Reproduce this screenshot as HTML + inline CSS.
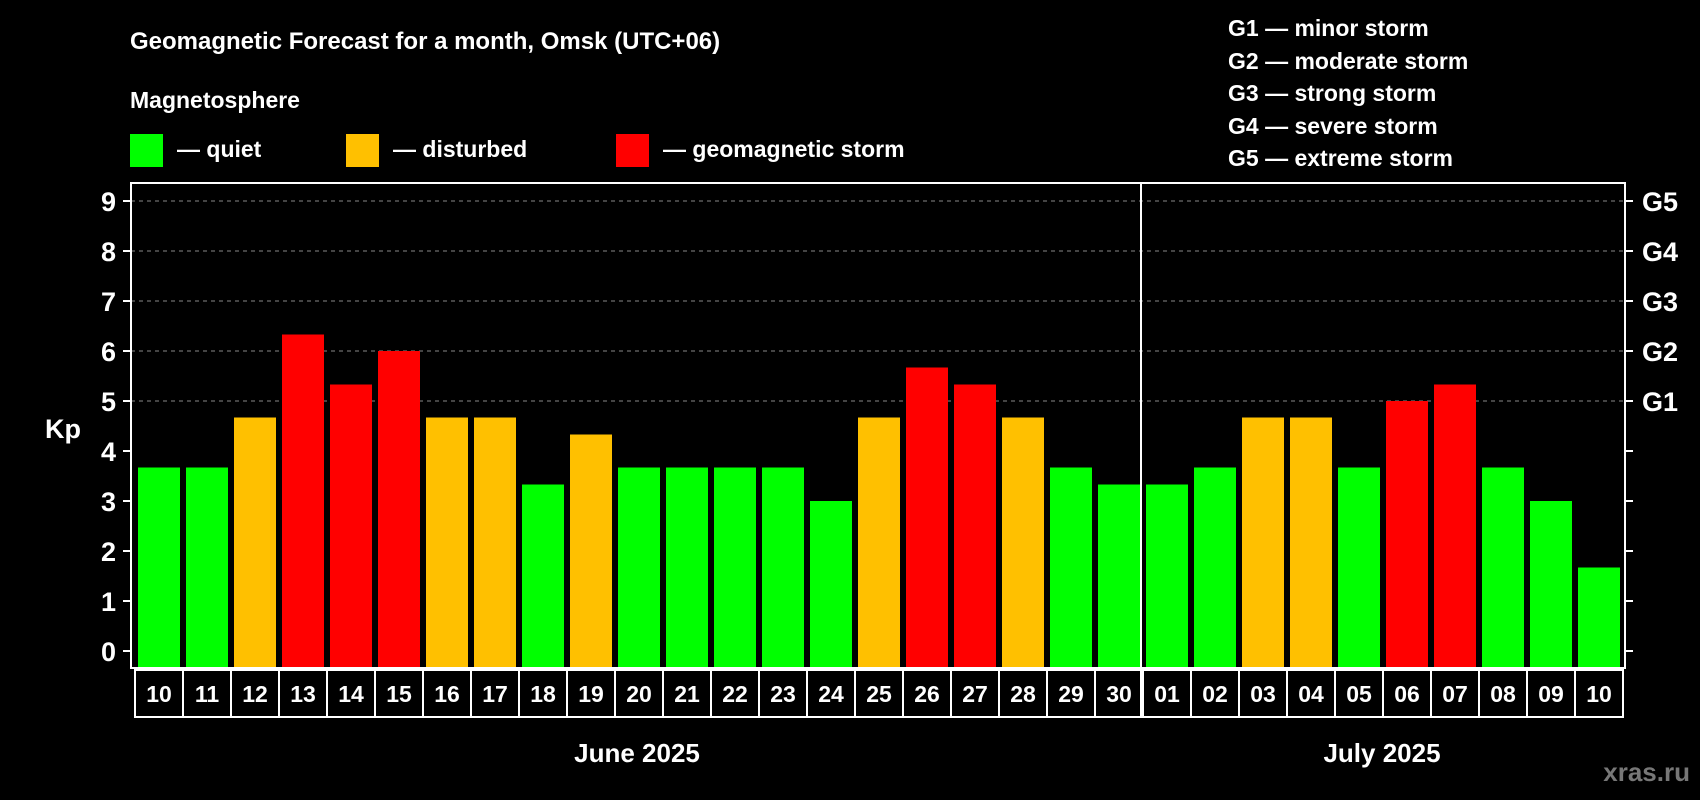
<!DOCTYPE html>
<html><head><meta charset="utf-8"><style>
html,body{margin:0;padding:0;background:#000;width:1700px;height:800px;overflow:hidden}
svg{display:block;font-family:"Liberation Sans",Arial,sans-serif;font-weight:bold}
</style></head><body>
<svg id="chart" width="1700" height="800">
<rect x="0" y="0" width="1700" height="800" fill="#000"/>
<text x="130" y="49" fill="#fff" font-size="24">Geomagnetic Forecast for a month, Omsk (UTC+06)</text>
<text x="130" y="108" fill="#fff" font-size="23">Magnetosphere</text>
<g><rect x="130" y="134" width="33" height="33" fill="#00ff00"/><text x="177" y="157" fill="#fff" font-size="23">— quiet</text></g>
<g><rect x="346" y="134" width="33" height="33" fill="#ffc000"/><text x="393" y="157" fill="#fff" font-size="23">— disturbed</text></g>
<g><rect x="616" y="134" width="33" height="33" fill="#ff0000"/><text x="663" y="157" fill="#fff" font-size="23">— geomagnetic storm</text></g>
<g fill="#fff" font-size="23">
<text x="1228" y="36">G1 — minor storm</text>
<text x="1228" y="69">G2 — moderate storm</text>
<text x="1228" y="101">G3 — strong storm</text>
<text x="1228" y="134">G4 — severe storm</text>
<text x="1228" y="166">G5 — extreme storm</text>
</g>
<text x="63" y="438" fill="#fff" font-size="27" text-anchor="middle">Kp</text>
<g id="grid"></g><g id="bars"></g><g id="axes"></g><g id="days"></g>
<text x="637" y="762" fill="#fff" font-size="26" text-anchor="middle">June 2025</text>
<text x="1382" y="762" fill="#fff" font-size="26" text-anchor="middle">July 2025</text>
<text x="1690" y="781" fill="#777" font-size="26" text-anchor="end">xras.ru</text>
</svg>
<script>
const days=["10","11","12","13","14","15","16","17","18","19","20","21","22","23","24","25","26","27","28","29","30","01","02","03","04","05","06","07","08","09","10"];
const kp=[3.67,3.67,4.67,6.33,5.33,6,4.67,4.67,3.33,4.33,3.67,3.67,3.67,3.67,3,4.67,5.67,5.33,4.67,3.67,3.33,3.33,3.67,4.67,4.67,3.67,5,5.33,3.67,3,1.67];
const yTicks=[0,1,2,3,4,5,6,7,8,9];
const gLabels=["G1","G2","G3","G4","G5"];
const monthBreak=21;
const NS="http://www.w3.org/2000/svg";
const L=131,R=1625,T=183,B=668,X0=135,PITCH=48;
function y(v){return 651-v*50;}
function x(i){return X0+i*PITCH;}
function mk(tag,attrs,parent){const e=document.createElementNS(NS,tag);for(const k in attrs)e.setAttribute(k,attrs[k]);parent.appendChild(e);return e;}
const grid=document.getElementById('grid'),bars=document.getElementById('bars'),axes=document.getElementById('axes'),dg=document.getElementById('days');
yTicks.forEach(v=>{
  if(v>=5){const g=mk('line',{x1:L,x2:R,y1:y(v),y2:y(v),stroke:'#888','stroke-width':1,'stroke-dasharray':'4,4'},grid);
  
  }
  const t1=mk('line',{x1:L-8,x2:L,y1:y(v),y2:y(v),stroke:'#fff','stroke-width':2},axes);
  
  
  const t2=mk('line',{x1:R,x2:R+8,y1:y(v),y2:y(v),stroke:'#fff','stroke-width':2},axes);
  
  
  const lb=mk('text',{x:116,y:y(v)+10,fill:'#fff','font-size':27,'text-anchor':'end'},axes);lb.textContent=v;
  
  
  if(v>=5){const g=mk('text',{x:1642,y:y(v)+10,fill:'#fff','font-size':27},axes);g.textContent=gLabels[v-5];
  
  }
});
kp.forEach((v,i)=>{
  const c=v>=5?'#ff0000':(v>=4?'#ffc000':'#00ff00');
  const r=mk('rect',{x:x(i)+3,y:y(v),width:42,height:B-y(v),fill:c},bars);
  
  
  const b=mk('rect',{x:x(i),y:670,width:PITCH,height:47,fill:'none',stroke:'#fff','stroke-width':2},dg);
  
  
  const t=mk('text',{x:x(i)+PITCH/2,y:702,fill:'#fff','font-size':23,'text-anchor':'middle'},dg);t.textContent=days[i];
  
  
});
const frame=mk('rect',{x:L,y:T,width:R-L,height:B-T,fill:'none',stroke:'#fff','stroke-width':2},axes);


const div=mk('line',{x1:x(monthBreak)-2,x2:x(monthBreak)-2,y1:T,y2:717,stroke:'#fff','stroke-width':2},axes);


</script>
</body></html>
